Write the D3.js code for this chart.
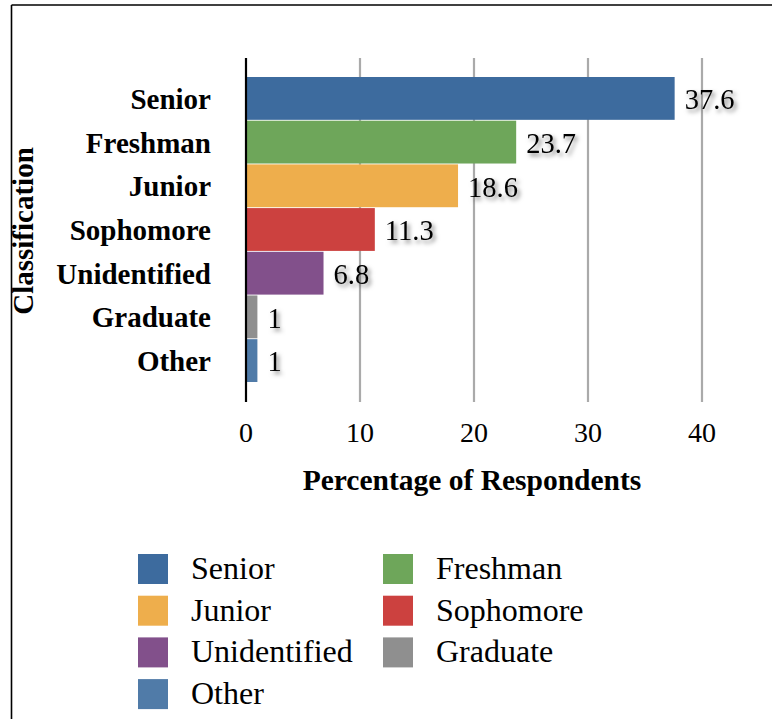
<!DOCTYPE html>
<html><head><meta charset="utf-8">
<script src="https://cdn.jsdelivr.net/npm/d3@7"></script>
<style>
html,body{margin:0;padding:0;background:#fff;}
svg{display:block;}
text{font-family:"Liberation Serif","Times New Roman",serif;fill:#000;}
</style></head>
<body>
<svg id="c" width="772" height="719"></svg>
<script>
const categories = ["Senior","Freshman","Junior","Sophomore","Unidentified","Graduate","Other"];
const values = [37.6, 23.7, 18.6, 11.3, 6.8, 1, 1];
const colors = ["#3d6b9e","#6ea65a","#eeae4c","#cc413f","#82508b","#8f8f8f","#507ba8"];
const xTicks = [0,10,20,30,40];

const svg = d3.select("#c");
const defs = svg.append("defs");
const f = defs.append("filter").attr("id","sh").attr("x","-20%").attr("y","-40%").attr("width","150%").attr("height","190%");
f.append("feDropShadow").attr("dx",2.5).attr("dy",3).attr("stdDeviation",2.2).attr("flood-color","#000").attr("flood-opacity",0.5);

// frame
svg.append("line").attr("x1",11.5).attr("x2",772).attr("y1",5).attr("y2",5).attr("stroke","#000").attr("stroke-width",1.6);
svg.append("line").attr("x1",11.5).attr("x2",11.5).attr("y1",5).attr("y2",719).attr("stroke","#000").attr("stroke-width",1.6);

const x = d3.scaleLinear().domain([0,40]).range([246,702]);
const y = d3.scaleBand().domain(categories).range([77,382]).paddingInner(0.02);
const plotTop = 58, plotBottom = 402;

// gridlines
svg.append("g").selectAll("line").data(xTicks.filter(d=>d>0)).join("line")
  .attr("x1",d=>x(d)).attr("x2",d=>x(d)).attr("y1",plotTop).attr("y2",plotBottom)
  .attr("stroke","#aaaaaa").attr("stroke-width",2.2);

// bars
svg.append("g").selectAll("rect").data(categories).join("rect")
  .attr("x",x(0)).attr("y",d=>y(d))
  .attr("width",(d,i)=>x(values[i])-x(0)).attr("height",y.bandwidth())
  .attr("fill",(d,i)=>colors[i]);

// axis line
svg.append("line").attr("x1",x(0)).attr("x2",x(0)).attr("y1",plotTop).attr("y2",plotBottom).attr("stroke","#000").attr("stroke-width",2.2);

// value labels
svg.append("g").selectAll("text").data(categories).join("text")
  .attr("x",(d,i)=>x(values[i])+10).attr("y",d=>y(d)+y.bandwidth()/2)
  .attr("dy","0.38em").attr("font-size",28.5).attr("filter","url(#sh)")
  .text((d,i)=>values[i]);

// category labels
svg.append("g").selectAll("text").data(categories).join("text")
  .attr("x",211).attr("y",d=>y(d)+y.bandwidth()/2)
  .attr("dy","0.36em").attr("text-anchor","end").attr("font-size",29).attr("font-weight","bold")
  .text(d=>d);

// x tick labels
svg.append("g").selectAll("text").data(xTicks).join("text")
  .attr("x",d=>x(d)).attr("y",442).attr("text-anchor","middle").attr("font-size",28)
  .text(d=>d);

// axis titles
svg.append("text").attr("x",472).attr("y",490).attr("text-anchor","middle")
  .attr("font-size",29.5).attr("font-weight","bold").text("Percentage of Respondents");
svg.append("text").attr("transform","translate(33,231) rotate(-90)").attr("text-anchor","middle")
  .attr("font-size",29).attr("font-weight","bold").text("Classification");

// legend
const lg = svg.append("g");
const items = lg.selectAll("g").data(categories).join("g")
  .attr("transform",(d,i)=>`translate(${i%2===0?138:383},${554+Math.floor(i/2)*41.7})`);
items.append("rect").attr("width",30).attr("height",30).attr("fill",(d,i)=>colors[i]);
items.append("text").attr("x",53).attr("y",15).attr("dy","0.31em").attr("font-size",32).text(d=>d);
</script>
</body></html>
